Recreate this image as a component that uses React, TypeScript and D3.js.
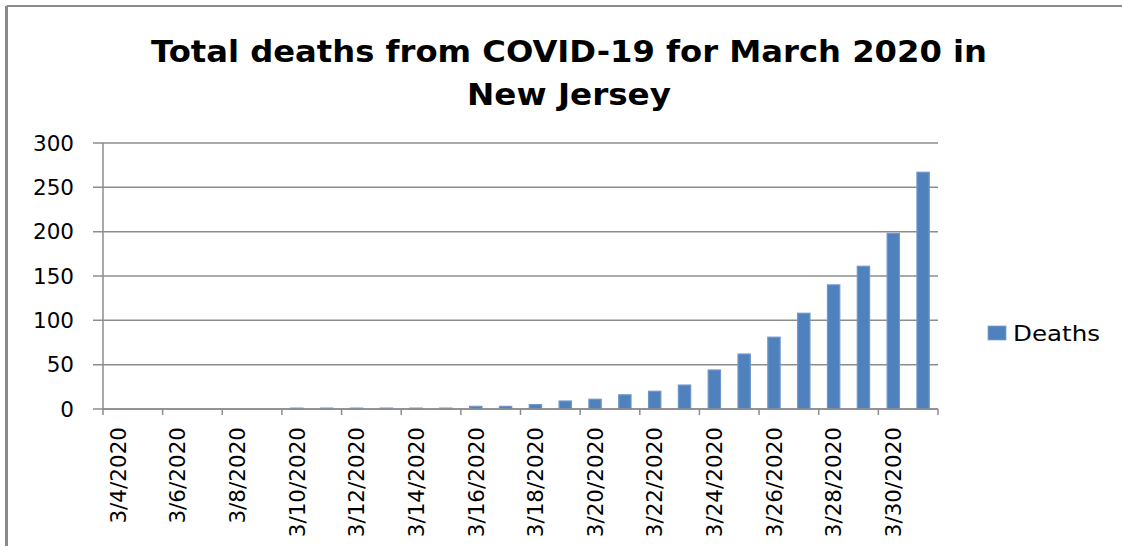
import React from 'react';
import * as d3 from 'd3';

const dates = [
  '3/4/2020', '3/5/2020', '3/6/2020', '3/7/2020', '3/8/2020', '3/9/2020', '3/10/2020',
  '3/11/2020', '3/12/2020', '3/13/2020', '3/14/2020', '3/15/2020', '3/16/2020', '3/17/2020',
  '3/18/2020', '3/19/2020', '3/20/2020', '3/21/2020', '3/22/2020', '3/23/2020', '3/24/2020',
  '3/25/2020', '3/26/2020', '3/27/2020', '3/28/2020', '3/29/2020', '3/30/2020', '3/31/2020',
];
const deaths = [0, 0, 0, 0, 0, 0, 1, 1, 1, 1, 1, 1, 3, 3, 5, 9, 11, 16, 20, 27, 44, 62, 81, 108, 140, 161, 198, 267];
const yTicks = [0, 50, 100, 150, 200, 250, 300];
const seriesName = 'Deaths';
const titleLines = ['Total deaths from COVID-19 for March 2020 in', 'New Jersey'];

const W = 1122;
const H = 546;
const plot = { left: 103, right: 938, top: 143, bottom: 409 };
const gridColor = '#8c8c8c';
const barColor = '#4f81bd';
const font = '"DejaVu Sans", sans-serif';

export default function App() {
  const x = d3.scaleBand<string>()
    .domain(dates)
    .range([plot.left, plot.right])
    .paddingInner(0.587)
    .paddingOuter(0.2935);
  const y = d3.scaleLinear().domain([0, 300]).range([plot.bottom, plot.top]);
  const step = x.step();
  const bw = x.bandwidth();
  const gap = (step - bw) / 2;

  // tick marks sit on the category edges, one every two days
  const boundaries = dates
    .map((d, i) => ({ d, i }))
    .filter(o => o.i % 2 === 0)
    .map(o => (x(o.d) as number) - gap);
  boundaries.push(plot.right);

  return (
    <div style={{ position: 'absolute', left: 0, top: 0 }}>
      <svg width={W} height={H} style={{ display: 'block', background: '#fff' }}>
        {/* outer chart border */}
        <line x1={6.5} y1={6} x2={W} y2={6} stroke="#8a8a8a" strokeWidth={2} />
        <line x1={6.5} y1={6} x2={6.5} y2={H} stroke="#8a8a8a" strokeWidth={3} />

        {titleLines.map((t, i) => (
          <text key={t} x={569} y={62 + i * 43} textAnchor="middle"
            fontFamily={font} fontWeight="bold" fontSize={31} fill="#000"
            textLength={i === 0 ? 836 : 204} lengthAdjust="spacingAndGlyphs">{t}</text>
        ))}

        {/* gridlines + y ticks */}
        {yTicks.map(t => (
          <g key={t}>
            <line x1={93} x2={plot.right} y1={y(t)} y2={y(t)} stroke={gridColor} strokeWidth={1.5} />
            <text x={74} y={y(t)} dy="0.36em" textAnchor="end" fontFamily={font} fontSize={21.5} fill="#000">{t}</text>
          </g>
        ))}

        {/* y axis */}
        <line x1={plot.left} x2={plot.left} y1={plot.top} y2={plot.bottom} stroke={gridColor} strokeWidth={1.5} />

        {/* bars */}
        {dates.map((d, i) => (
          deaths[i] > 0 ? (
            <rect key={d} x={x(d)} y={y(deaths[i])} width={bw} height={y(0) - y(deaths[i])}
              fill={barColor} stroke="#6f97cc" strokeWidth={1.2} />
          ) : null
        ))}

        {/* x axis */}
        <line x1={plot.left} x2={plot.right} y1={plot.bottom} y2={plot.bottom} stroke={gridColor} strokeWidth={1.5} />
        {boundaries.map((bx, i) => (
          <line key={i} x1={bx} x2={bx} y1={plot.bottom} y2={plot.bottom + 6} stroke={gridColor} strokeWidth={1.5} />
        ))}
        {dates.map((d, i) => (
          i % 2 === 0 ? (
            <text key={d}
              transform={`translate(${(x(d) as number) + bw / 2},${plot.bottom + 18}) rotate(-90)`}
              textAnchor="end" dy="0.36em" fontFamily={font} fontSize={21.5} fill="#000">{d}</text>
          ) : null
        ))}

        {/* legend */}
        <rect x={988} y={326} width={18} height={14} fill={barColor} stroke="#7fa3d3" strokeWidth={0.8} />
        <text x={1013} y={333} dy="0.36em" fontFamily={font} fontSize={22} fill="#000"
          textLength={87} lengthAdjust="spacingAndGlyphs">{seriesName}</text>
      </svg>
    </div>
  );
}
